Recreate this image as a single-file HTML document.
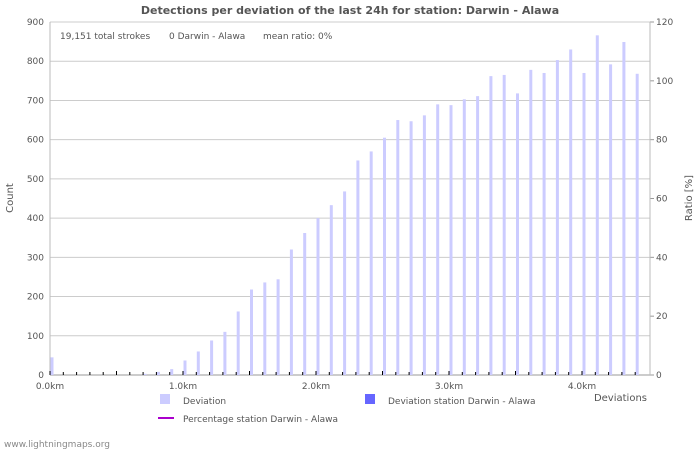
<!DOCTYPE html>
<html><head><meta charset="utf-8"><style>
body{margin:0;background:#fff;font-family:"Liberation Sans","DejaVu Sans",sans-serif}
svg text{font-family:"DejaVu Sans","Liberation Sans",sans-serif}
</style></head><body>
<svg id="c" width="700" height="450" xmlns="http://www.w3.org/2000/svg">
<rect width="700" height="450" fill="#fff"/>
<text x="350" y="14" text-anchor="middle" font-size="11" font-weight="bold" fill="#555">Detections per deviation of the last 24h for station: Darwin - Alawa</text>
<g id="grid"></g>
<g id="bars"></g>
<g id="axes"></g>
<text x="60" y="39" font-size="9" fill="#555">19,151 total strokes</text>
<text x="169" y="39" font-size="9" fill="#555">0 Darwin - Alawa</text>
<text x="263" y="39" font-size="9" fill="#555">mean ratio: 0%</text>
<text x="13" y="198" font-size="10" fill="#555" text-anchor="middle" transform="rotate(-90 13 198)">Count</text>
<text x="692" y="198" font-size="10" fill="#555" text-anchor="middle" transform="rotate(-90 692 198)">Ratio [%]</text>
<text x="647" y="401" font-size="10" fill="#555" text-anchor="end">Deviations</text>
<rect x="160" y="394" width="10" height="10" fill="#ccf"/>
<text x="183" y="404" font-size="9" fill="#555">Deviation</text>
<rect x="365" y="394" width="10" height="10" fill="#66f"/>
<text x="388" y="404" font-size="9" fill="#555">Deviation station Darwin - Alawa</text>
<line x1="158" y1="418" x2="174" y2="418" stroke="#a0c" stroke-width="2"/>
<text x="183" y="422" font-size="9" fill="#555">Percentage station Darwin - Alawa</text>
<text x="4" y="447" font-size="9" fill="#888">www.lightningmaps.org</text>
</svg>
<script>
const distances=[0,0.1,0.2,0.3,0.4,0.5,0.6,0.7,0.8,0.9,1.0,1.1,1.2,1.3,1.4,1.5,1.6,1.7,1.8,1.9,2.0,2.1,2.2,2.3,2.4,2.5,2.6,2.7,2.8,2.9,3.0,3.1,3.2,3.3,3.4,3.5,3.6,3.7,3.8,3.9,4.0,4.1,4.2,4.3,4.4];
const deviationCounts=[45,0,0,0,0,0,0,3,8,15,37,60,88,110,162,218,236,244,320,362,400,433,468,547,570,605,650,647,662,690,688,703,711,762,765,718,778,770,803,830,770,866,792,849,768];
const stationCounts=distances.map(()=>0);
const yTicks=[0,100,200,300,400,500,600,700,800,900];
const y2Ticks=[0,20,40,60,80,100,120];
const xTicks=[0,1,2,3,4];
const xTickLabels=["0.0km","1.0km","2.0km","3.0km","4.0km"];
const NS="http://www.w3.org/2000/svg";
const X0=50,X1=650,Y0=375,Y1=22;
const xs=d=>X0+d*133;
const ys=v=>Y0-(v/900)*(Y0-Y1);
const y2s=v=>Y0-(v/120)*(Y0-Y1);
function mk(tag,attrs,parent,text){const e=document.createElementNS(NS,tag);for(const k in attrs)e.setAttribute(k,attrs[k]);if(text!==undefined)e.textContent=text;document.getElementById(parent).appendChild(e);return e;}
yTicks.forEach(v=>{
  const g=mk('line',{x1:X0,x2:X1,y1:ys(v),y2:ys(v),stroke:v===0?'#999':'#ccc','stroke-width':1},'grid');
  
  
  const t=mk('text',{x:44,y:ys(v)+3,'font-size':9,fill:'#555','text-anchor':'end'},'axes',String(v));
  
  
});
y2Ticks.forEach(v=>{
  const t=mk('text',{x:656,y:y2s(v)+3,'font-size':9,fill:'#555'},'axes',String(v));
  
  
  mk('line',{x1:X1,x2:X1+4,y1:y2s(v),y2:y2s(v),stroke:'#999'},'axes');
});
mk('line',{x1:X0,x2:X0,y1:Y1,y2:Y0,stroke:'#bbb'},'axes');
mk('line',{x1:X1,x2:X1,y1:Y1,y2:Y0,stroke:'#bbb'},'axes');
distances.forEach((d,i)=>{
  const x=xs(d);
  const b=mk('rect',{x:x+0.5,y:ys(deviationCounts[i]),width:3,height:Y0-ys(deviationCounts[i]),fill:'#ccf'},'bars');
  
  
  if(stationCounts[i]>0){
    const s=mk('rect',{x:x+3.5,y:ys(stationCounts[i]),width:3,height:Y0-ys(stationCounts[i]),fill:'#66f'},'bars');
    
    
  }
  const major=Math.round(d*10)%5===0;
  mk('line',{x1:x,x2:x,y1:Y0-(major?4:3),y2:Y0,stroke:'#000'},'axes');
});
xTicks.forEach((d,i)=>{
  const t=mk('text',{x:xs(d),y:389,'font-size':9,fill:'#555','text-anchor':'middle'},'axes',xTickLabels[i]);
  
  
});
</script>
</body></html>
